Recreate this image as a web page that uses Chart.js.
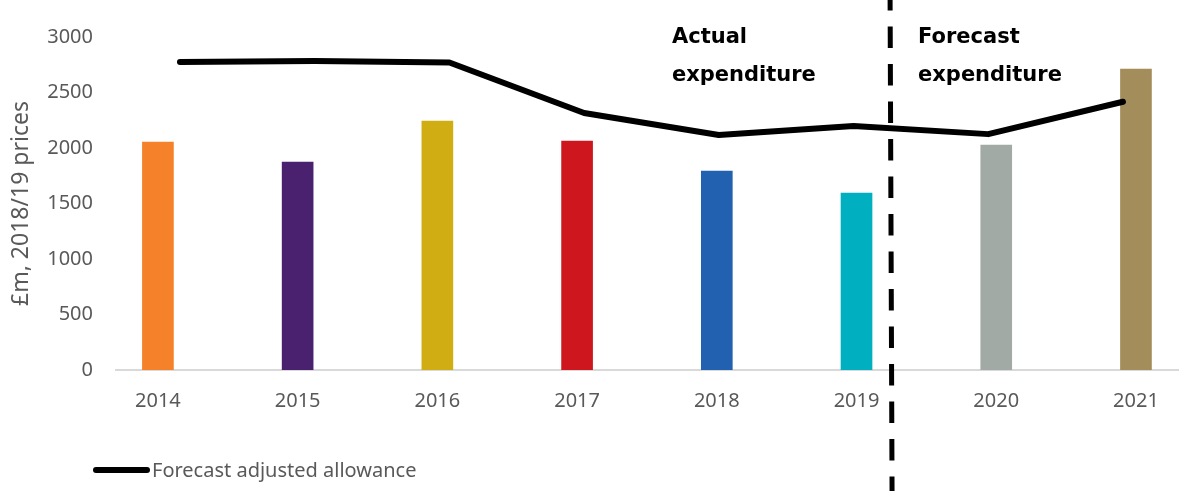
<!DOCTYPE html>
<html>
<head>
<meta charset="utf-8">
<script src="https://cdn.jsdelivr.net/npm/chart.js@4"></script>
<style>
  body { margin: 0; background: #fff; }
  #wrap { position: relative; width: 1179px; height: 491px; }
  #legend { position: absolute; left: 93px; top: 456px; display: flex; align-items: center;
    font-family: "Noto Sans", sans-serif; font-size: 20px; color: #595959; }
  #legend .swatch { width: 57px; height: 6px; border-radius: 3px; background: #000; margin-right: 2px; }
</style>
</head>
<body>
<div id="wrap">
  <canvas id="chart"></canvas>
  <div id="legend"><span class="swatch"></span><span id="legend-text"></span></div>
</div>
<script>
const years = [2014, 2015, 2016, 2017, 2018, 2019, 2020, 2021];
const expenditure = [2054, 1874, 2243, 2063, 1793, 1595, 2027, 2712];
const allowance = [2775, 2784, 2770, 2315, 2117, 2198, 2125, 2417];
const barColours = ['#F5822A', '#4A216E', '#D0AE13', '#CE161E', '#2161B0', '#00B0C0', '#A2AAA6', '#A38D5B'];
const yTicks = [0, 500, 1000, 1500, 2000, 2500, 3000];
const allowanceLabel = 'Forecast adjusted allowance';
const dividerAt = 2019.24;

document.getElementById('legend-text').textContent = allowanceLabel;

const tickFont = { family: '"Noto Sans", sans-serif', size: 20 };
const grey = '#595959';

// dashed divider + the two bold captions
const dividerPlugin = {
  id: 'divider',
  afterDraw(chart) {
    const ctx = chart.ctx;
    const x = chart.scales.x.getPixelForValue(dividerAt);
    ctx.save();
    ctx.strokeStyle = '#000';
    ctx.lineWidth = 5;
    ctx.setLineDash([21.5, 16]);
    ctx.beginPath();
    ctx.moveTo(x, -11);
    ctx.lineTo(x + 2, chart.height);
    ctx.stroke();

    ctx.fillStyle = '#000';
    ctx.font = 'bold 21px "DejaVu Sans", sans-serif';
    ctx.textAlign = 'left';
    ctx.textBaseline = 'alphabetic';
    ctx.fillText('Actual', 672, 43);
    ctx.fillText('expenditure', 672, 81);
    ctx.fillText('Forecast', x + 28, 43);
    ctx.fillText('expenditure', x + 28, 81);
    ctx.restore();
  }
};

new Chart(document.getElementById('chart'), {
  type: 'bar',
  data: {
    datasets: [
      {
        type: 'line',
        label: allowanceLabel,
        data: years.map((y, i) => ({ x: y, y: allowance[i] })),
        xAxisID: 'x2',
        borderColor: '#000',
        borderWidth: 6,
        borderCapStyle: 'round',
        borderJoinStyle: 'round',
        pointRadius: 0,
        tension: 0,
        order: 0
      },
      {
        type: 'bar',
        label: 'Expenditure',
        data: years.map((y, i) => ({ x: y, y: expenditure[i] })),
        xAxisID: 'x',
        backgroundColor: barColours,
        barThickness: 31,
        grouped: false,
        order: 1
      }
    ]
  },
  options: {
    responsive: true,
    maintainAspectRatio: false,
    animation: false,
    layout: { padding: { top: 37, right: 0, bottom: 0, left: 0 } },
    plugins: {
      legend: { display: false },
      tooltip: { enabled: false }
    },
    scales: {
      x: {
        type: 'linear',
        min: 2013.70,
        max: 2021.308,
        offset: false,
        grid: { display: false },
        border: { display: true, color: '#D9D9D9', width: 2 },
        afterBuildTicks: s => { s.ticks = years.map(v => ({ value: v })); },
        afterFit: s => { s.height = 121; },
        ticks: {
          color: grey,
          font: tickFont,
          padding: 11,
          maxRotation: 0,
          autoSkip: false,
          callback: v => String(v)
        }
      },
      x2: {
        type: 'linear',
        display: false,
        offset: false,
        min: 2013.525,
        max: 2021.416
      },
      y: {
        min: 0,
        max: 3000,
        grid: { display: false },
        border: { display: false },
        afterBuildTicks: s => { s.ticks = yTicks.map(v => ({ value: v })); },
        afterFit: s => { s.width = 116; },
        ticks: {
          color: grey,
          font: tickFont,
          padding: 15,
          callback: v => String(v)
        },
        title: {
          display: true,
          text: '£m, 2018/19 prices',
          color: grey,
          font: { family: '"Noto Sans", sans-serif', size: 23 },
          padding: { top: 8, bottom: 0 }
        }
      }
    }
  },
  plugins: [dividerPlugin]
});
</script>
</body>
</html>
